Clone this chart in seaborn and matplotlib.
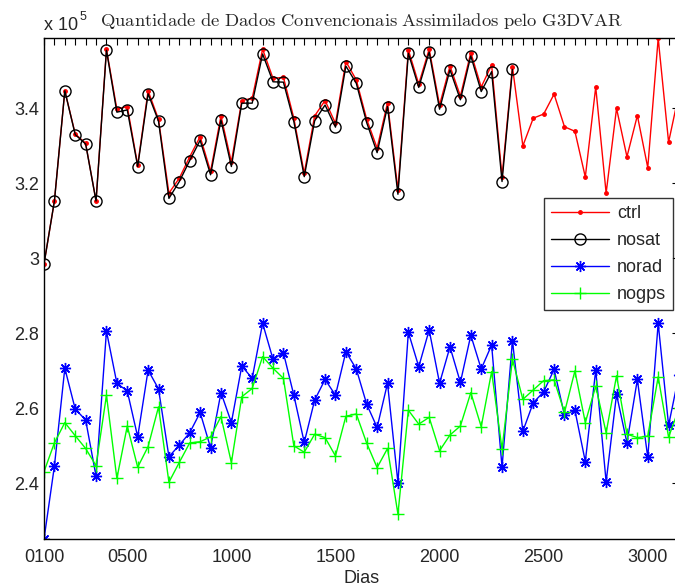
import numpy as np
import pandas as pd
import matplotlib
matplotlib.use('Agg')
import matplotlib.pyplot as plt
import seaborn as sns

# values in units of 1e5 (as shown on the y axis)
ctrl = [2.985, 3.153, 3.447, 3.332, 3.307, 3.153, 3.558, 3.398, 3.405, 3.249,
        3.447, 3.371, 3.174, 3.214, 3.271, 3.325, 3.232, 3.380, 3.257, 3.421,
        3.427, 3.558, 3.480, 3.483, 3.374, 3.227, 3.380, 3.421, 3.360, 3.525,
        3.476, 3.371, 3.294, 3.415, 3.183, 3.556, 3.465, 3.558, 3.409, 3.513,
        3.433, 3.549, 3.457, 3.516, 3.218, 3.511, 3.300, 3.374, 3.385, 3.438,
        3.351, 3.339, 3.217, 3.457, 3.174, 3.400, 3.271, 3.381, 3.242, 3.587,
        3.310, 3.440]
nosat = [2.985, 3.153, 3.447, 3.330, 3.305, 3.153, 3.555, 3.390, 3.396, 3.245,
         3.439, 3.366, 3.160, 3.205, 3.261, 3.315, 3.223, 3.369, 3.245, 3.414,
         3.414, 3.545, 3.471, 3.470, 3.365, 3.218, 3.367, 3.409, 3.350, 3.513,
         3.467, 3.362, 3.282, 3.405, 3.171, 3.547, 3.456, 3.550, 3.398, 3.503,
         3.423, 3.540, 3.445, 3.498, 3.205, 3.504]
norad = [2.251, 2.446, 2.707, 2.598, 2.569, 2.419, 2.806, 2.667, 2.646, 2.524,
         2.702, 2.652, 2.471, 2.502, 2.535, 2.589, 2.495, 2.642, 2.562, 2.713,
         2.680, 2.827, 2.731, 2.748, 2.635, 2.509, 2.622, 2.677, 2.635, 2.751,
         2.705, 2.611, 2.549, 2.667, 2.402, 2.803, 2.711, 2.809, 2.667, 2.764,
         2.669, 2.795, 2.705, 2.769, 2.443, 2.780, 2.539, 2.615, 2.644, 2.704,
         2.582, 2.595, 2.458, 2.702, 2.404, 2.637, 2.508, 2.677, 2.469, 2.827,
         2.555, 2.690]
nogps = [2.431, 2.508, 2.562, 2.527, 2.493, 2.447, 2.635, 2.413, 2.553, 2.443,
         2.498, 2.604, 2.403, 2.456, 2.508, 2.511, 2.524, 2.578, 2.455, 2.631,
         2.653, 2.738, 2.707, 2.680, 2.500, 2.483, 2.531, 2.522, 2.473, 2.579,
         2.585, 2.507, 2.442, 2.493, 2.318, 2.595, 2.558, 2.576, 2.487, 2.529,
         2.553, 2.642, 2.551, 2.698, 2.491, 2.731, 2.624, 2.649, 2.674, 2.676,
         2.589, 2.700, 2.562, 2.659, 2.535, 2.687, 2.531, 2.522, 2.526, 2.684,
         2.523, 2.600]

# x tick labels (day/hour) and their position in the series
xtick_pos = [0, 8, 18, 28, 38, 48, 58]
xtick_labels = ['0100', '0500', '1000', '1500', '2000', '2500', '3000']
ytick_vals = [2.4, 2.6, 2.8, 3.0, 3.2, 3.4]
ytick_labels = ['2.4', '2.6', '2.8', '3', '3.2', '3.4']

sns.set_style('white')
plt.rcParams['font.family'] = ['Liberation Sans', 'DejaVu Sans']
plt.rcParams['mathtext.fontset'] = 'cm'

fig = plt.figure(figsize=(6.75, 5.88), dpi=100)
ax = fig.add_axes([44/675, 1 - 539.2/588, 635/675, (539.2 - 38.3)/588])

series = [
    ('ctrl', ctrl, dict(color='red', marker='.', markersize=5,
                        markeredgecolor='red', markerfacecolor='red')),
    ('nosat', nosat, dict(color='black', marker='o', markersize=8,
                          markeredgecolor='black', markerfacecolor='none')),
    ('norad', norad, dict(color='blue', marker=(8, 2, 0), markersize=8,
                          markeredgecolor='blue', markerfacecolor='blue')),
    ('nogps', nogps, dict(color='#00ff00', marker='+', markersize=9,
                          markeredgecolor='#00ff00')),
]
for name, vals, kw in series:
    df = pd.DataFrame({'idx': np.arange(len(vals)), 'val': vals})
    sns.lineplot(data=df, x='idx', y='val', ax=ax, label=name,
                 linewidth=1.0, markeredgewidth=1.0, errorbar=None, **kw)

ax.set_xlim(0, 61)
ax.set_ylim(min(norad), max(ctrl))
ax.set_xticks(xtick_pos)
ax.set_xticklabels(xtick_labels)
ax.set_xticks(np.arange(0, 62), minor=True)
ax.set_yticks(ytick_vals)
ax.set_yticklabels(ytick_labels)
ax.tick_params(which='both', direction='in', top=True, right=True,
               length=5, width=0.8, labelsize=13, color='black')
ax.tick_params(axis='x', pad=7)
for s in ax.spines.values():
    s.set_color('black')
    s.set_linewidth(1.0)
ax.set_xlabel('Dias', fontsize=13, labelpad=3)
ax.set_ylabel('')

ax.set_title(r'$\mathrm{Quantidade\ de\ Dados\ Convencionais\ Assimilados\ pelo\ G3DVAR}$',
             fontsize=13.4, pad=9)
fig.text(44/675, 1 - 30/588, 'x 10', fontsize=13, va='baseline', ha='left')
fig.text(80/675, 1 - 20.5/588, '5', fontsize=9, va='baseline', ha='left')

leg = ax.legend(loc='upper left', bbox_to_anchor=(544/675, 1 - 198/588),
                bbox_transform=fig.transFigure, fontsize=13, frameon=True,
                fancybox=False, handlelength=3.2, handletextpad=0.45,
                labelspacing=0.55, borderpad=0.4, borderaxespad=0)
leg.get_frame().set_edgecolor('black')
leg.get_frame().set_linewidth(1.0)

fig.savefig('out.png', dpi=100)
